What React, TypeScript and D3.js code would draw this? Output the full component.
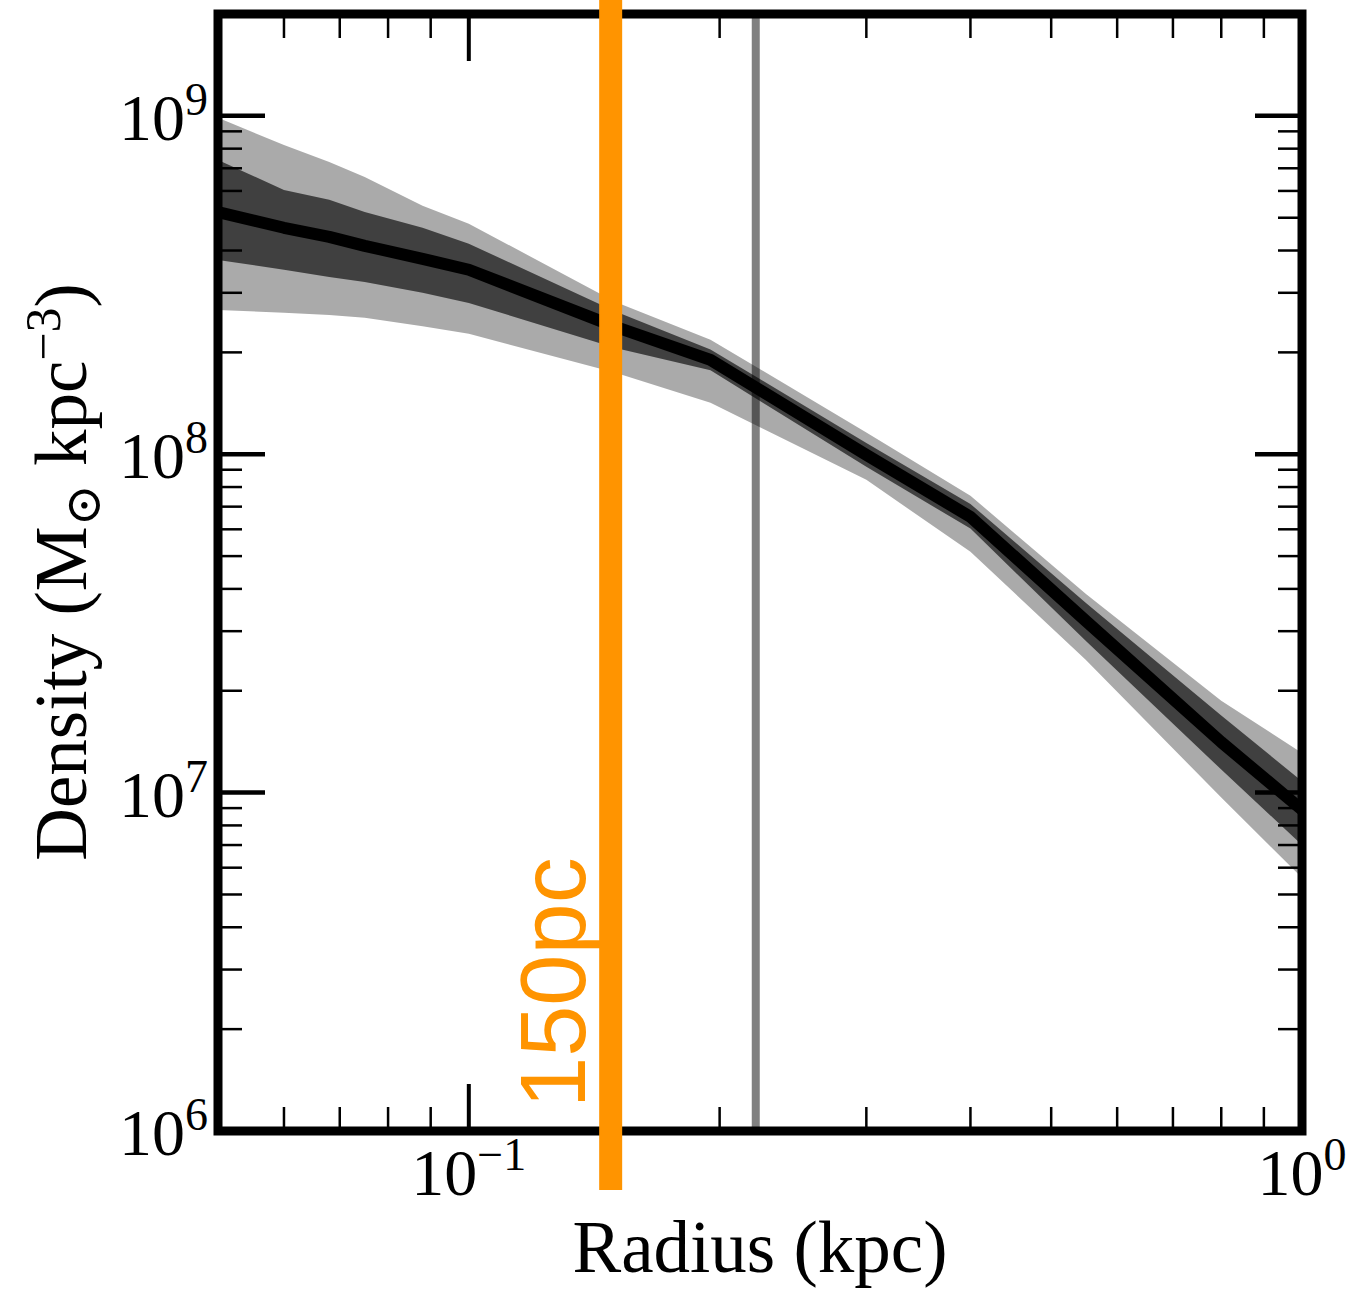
import React from "react";
import * as d3 from "d3";

// ---- data ----
const radius = [0.05, 0.06, 0.068, 0.075, 0.088, 0.1, 0.15, 0.195, 0.3, 0.4, 0.55, 0.8, 1.0];
const median = [5.2e8, 4.67e8, 4.39e8, 4.13e8, 3.78e8, 3.51e8, 2.38e8, 1.9e8, 9.96e7, 6.53e7, 3.22e7, 1.41e7, 8.9e6];
const upper68 = [7.41e8, 6.04e8, 5.65e8, 5.2e8, 4.67e8, 4.19e8, 2.64e8, 2.04e8, 1.08e8, 7.13e7, 3.64e7, 1.69e7, 1.08e7];
const lower68 = [3.75e8, 3.51e8, 3.34e8, 3.23e8, 3.0e8, 2.8e8, 2.06e8, 1.77e8, 9.18e7, 6.03e7, 2.81e7, 1.17e7, 7.0e6];
const upper95 = [9.87e8, 8.2e8, 7.31e8, 6.6e8, 5.42e8, 4.8e8, 2.82e8, 2.18e8, 1.16e8, 7.54e7, 3.87e7, 1.87e7, 1.31e7];
const lower95 = [2.67e8, 2.62e8, 2.58e8, 2.53e8, 2.39e8, 2.27e8, 1.74e8, 1.42e8, 8.4e7, 5.15e7, 2.47e7, 9.67e6, 5.6e6];

const xMajorTicks = [0.1, 1];
const xMajorExp = ["\u22121", "0"];
const xMinorTicks = [0.06, 0.07, 0.08, 0.09, 0.2, 0.3, 0.4, 0.5, 0.6, 0.7, 0.8, 0.9];
const yMajorTicks = [1e6, 1e7, 1e8, 1e9];
const yMajorExp = ["6", "7", "8", "9"];
const yMinorMult = [2, 3, 4, 5, 6, 7, 8, 9];
const yMinorDecades = [1e6, 1e7, 1e8];

const markerRadius150 = 0.148; // "150pc" marker
const markerRadiusGray = 0.221;
const markerLabel = "150pc";

const W = 1353;
const H = 1290;
const L = 218, R = 1302, T = 14, B = 1131;

export default function App() {
  const x = d3.scaleLog().domain([0.05, 1]).range([L, R]);
  const y = d3.scaleLog().domain([1e6, 2e9]).range([B, T]);

  const idx = radius.map((_, i) => i);
  const area = (lo: number[], hi: number[]) =>
    d3.area<number>()
      .x((i) => x(radius[i]))
      .y0((i) => y(lo[i]))
      .y1((i) => y(hi[i]))(idx) || "";
  const line = d3.line<number>().x((i) => x(radius[i])).y((i) => y(median[i]))(idx) || "";

  const yMinor: number[] = [];
  yMinorDecades.forEach((d) => yMinorMult.forEach((m) => yMinor.push(d * m)));

  const serif = "'Liberation Serif', 'DejaVu Serif', serif";
  const majLen = 47, minLen = 24;

  return (
    <svg width={W} height={H} style={{ position: "absolute", left: 0, top: 0, background: "#fff" }}>
      <rect x={0} y={0} width={W} height={H} fill="#fff" />
      <defs>
        <clipPath id="plot">
          <rect x={L} y={T} width={R - L} height={B - T} />
        </clipPath>
      </defs>
      {/* gray marker line */}
      <line x1={x(markerRadiusGray)} x2={x(markerRadiusGray)} y1={T} y2={B} stroke="#808080" strokeWidth={8} />
      <g clipPath="url(#plot)">
        <path d={area(lower95, upper95)} fill="#000" fillOpacity={0.333} />
        <path d={area(lower68, upper68)} fill="#000" fillOpacity={0.624} />
        <path d={line} fill="none" stroke="#000" strokeWidth={12} strokeLinejoin="round" />
      </g>

      {/* ticks */}
      <g stroke="#000">
        {xMajorTicks.map((t, i) => (
          <g key={"xM" + i} strokeWidth={4}>
            <line x1={x(t)} x2={x(t)} y1={B} y2={B - majLen} />
            <line x1={x(t)} x2={x(t)} y1={T} y2={T + majLen} />
          </g>
        ))}
        {xMinorTicks.map((t, i) => (
          <g key={"xm" + i} strokeWidth={2.5}>
            <line x1={x(t)} x2={x(t)} y1={B} y2={B - minLen} />
            <line x1={x(t)} x2={x(t)} y1={T} y2={T + minLen} />
          </g>
        ))}
        {yMajorTicks.map((t, i) => (
          <g key={"yM" + i} strokeWidth={4.5}>
            <line x1={L} x2={L + majLen} y1={y(t)} y2={y(t)} />
            <line x1={R} x2={R - majLen} y1={y(t)} y2={y(t)} />
          </g>
        ))}
        {yMinor.map((t, i) => (
          <g key={"ym" + i} strokeWidth={2.5}>
            <line x1={L} x2={L + minLen} y1={y(t)} y2={y(t)} />
            <line x1={R} x2={R - minLen} y1={y(t)} y2={y(t)} />
          </g>
        ))}
      </g>

      {/* spines */}
      <rect x={L} y={T} width={R - L} height={B - T} fill="none" stroke="#000" strokeWidth={9} />

      {/* tick labels */}
      {yMajorTicks.map((t, i) => (
        <text key={"yl" + i} x={208} y={y(t) + 24} textAnchor="end" fontFamily={serif} fontSize={66} fill="#000">
          10<tspan dy={-25} fontSize={46}>{yMajorExp[i]}</tspan>
        </text>
      ))}
      {xMajorTicks.map((t, i) => (
        <text key={"xl" + i} x={x(t)} y={1195} textAnchor="middle" fontFamily={serif} fontSize={66} fill="#000">
          10<tspan dy={-25} fontSize={46}>{xMajorExp[i]}</tspan>
        </text>
      ))}

      {/* axis labels */}
      <text x={(L + R) / 2} y={1272} textAnchor="middle" fontFamily={serif} fontSize={73} fill="#000">
        Radius (kpc)
      </text>
      <text
        transform={`translate(86, ${(L + 354)}) rotate(-90)`}
        textAnchor="middle"
        fontFamily={serif}
        fontSize={73}
        fill="#000"
      >
        Density (M<tspan dy={14} fontSize={50}>{"\u2299"}</tspan>
        <tspan dy={-14}> kpc</tspan>
        <tspan dy={-26} fontSize={50}>{"\u22123"}</tspan>
        <tspan dy={26}>)</tspan>
      </text>

      {/* orange 150pc marker */}
      <line x1={x(markerRadius150)} x2={x(markerRadius150)} y1={0} y2={1190} stroke="#ff9400" strokeWidth={23} />
      <text
        transform={`translate(585, 1108) rotate(-90)`}
        textAnchor="start"
        fontFamily="'Liberation Sans', Arial, sans-serif"
        fontSize={92}
        fill="#ff9400"
      >
        {markerLabel}
      </text>
    </svg>
  );
}
